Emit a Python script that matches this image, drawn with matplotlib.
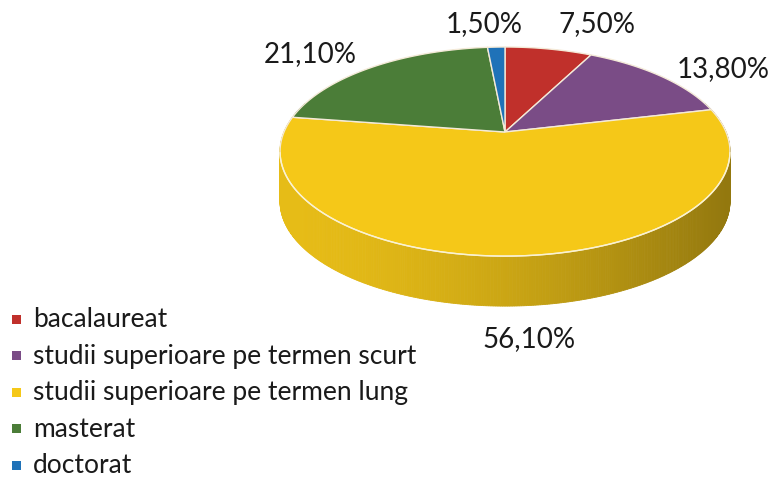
"""3D pie: education level distribution (Romanian labels)."""

import numpy as np
import matplotlib

matplotlib.use("Agg")
import matplotlib.pyplot as plt
from matplotlib.patches import Polygon, Rectangle

categories = [
    "bacalaureat",
    "studii superioare pe termen scurt",
    "studii superioare pe termen lung",
    "masterat",
    "doctorat",
]
shares = [7.5, 13.8, 56.1, 21.1, 1.5]
labels = ["7,50%", "13,80%", "56,10%", "21,10%", "1,50%"]
colors = ["#c0302b", "#7a4c86", "#f5c818", "#4b7d38", "#1f72b8"]

# layout (pixel space of the 771x481 canvas)
CX, CY = 505.0, 133.0      # apex of the wedges
A, B, P = 221.0, 100.9, 0.187  # horizontal / vertical radius, perspective
DEPTH = 50.0
label_pos = [(597, 24), (723, 69), (529, 339), (310, 54), (484, 24)]
FONT = "Lato"


def project(theta, z=0.0, r=1.0):
    u = r * np.sin(theta)
    v = r * np.cos(theta)
    d = 1.0 + P * v
    return CX + A * u / d, CY - B * v / d + z


fig = plt.figure(figsize=(7.71, 4.81), dpi=100)
ax = fig.add_axes([0, 0, 1, 1])
ax.set_xlim(0, 771)
ax.set_ylim(481, 0)
ax.axis("off")

bounds = np.concatenate([[0.0], np.cumsum(shares)]) / sum(shares) * 2 * np.pi

# side wall, drawn as thin strips with shading from left (light) to right (dark)
n = 720
ts = np.linspace(0, 2 * np.pi, n + 1)
for t0, t1 in zip(ts[:-1], ts[1:]):
    tm = 0.5 * (t0 + t1)
    if np.cos(tm) > 0.3:
        continue
    idx = np.searchsorted(bounds, tm) - 1
    x0, y0 = project(t0)
    x1, y1 = project(t1)
    xm = 0.5 * (x0 + x1)
    s = np.clip((xm - (CX - A)) / (2 * A), 0.0, 1.0)
    f = 0.94 - 0.34 * s ** 1.6
    base = np.array(matplotlib.colors.to_rgb(colors[idx]))
    col = np.clip(base * f, 0, 1)
    ax.add_patch(Polygon([(x0, y0), (x1, y1), (x1, y1 + DEPTH), (x0, y0 + DEPTH)],
                         closed=True, facecolor=col, edgecolor=col, linewidth=0.6))

# top faces
for i, (a0, a1) in enumerate(zip(bounds[:-1], bounds[1:])):
    th = np.linspace(a0, a1, max(4, int((a1 - a0) * 120)))
    xs, ys = project(th)
    pts = [(CX, CY)] + list(zip(xs, ys))
    ax.add_patch(Polygon(pts, closed=True, facecolor=colors[i],
                         edgecolor="#f4ead8", linewidth=1.0, zorder=3))

# rim highlight between top and wall
th = np.linspace(np.pi / 2 + 0.2, 3 * np.pi / 2 - 0.2, 200)
rx, ry = project(th)
ax.plot(rx, ry, color="#fbf3cf", linewidth=1.0, zorder=4)

for lab, (lx, ly) in zip(labels, label_pos):
    ax.text(lx, ly, lab, ha="center", va="center", fontsize=20,
            family=FONT, color="#1a1a1a", zorder=5)

# legend
leg_y = [320, 356.5, 393, 429.5, 466]
for cat, col, y in zip(categories, colors, leg_y):
    ax.add_patch(Rectangle((12, y - 4.5), 9, 9, facecolor=col, edgecolor="none"))
    ax.text(33, y, cat, ha="left", va="center", fontsize=19,
            family=FONT, color="#1a1a1a")

fig.savefig("out.png", dpi=100)
